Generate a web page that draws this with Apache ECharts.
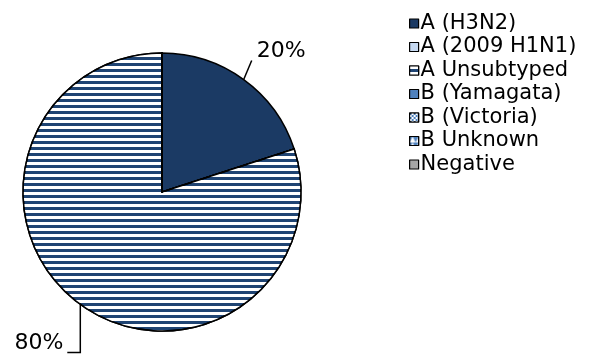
<!DOCTYPE html>
<html>
<head>
<meta charset="utf-8">
<script src="https://cdn.jsdelivr.net/npm/echarts@6/dist/echarts.min.js"></script>
<style>
html,body{margin:0;padding:0;background:#fff;}
#c{width:592px;height:358px;}
</style>
</head>
<body>
<div id="c"></div>
<script>
const categories = ['A (H3N2)', 'A (2009 H1N1)', 'A Unsubtyped', 'B (Yamagata)', 'B (Victoria)', 'B Unknown', 'Negative'];
const values = [20, 0, 80, 0, 0, 0, 0];

const fills = ['#1b3a64', '#c6d9f1', '#1f4473', '#4f81bd', '#4f81bd', '#4f81bd', '#a6a6a6'];
const decals = [
  'none',
  'none',
  { symbol: 'rect', symbolSize: 1, dashArrayX: [1, 0], dashArrayY: [3, 3], color: '#ffffff', rotation: 0 },
  'none',
  { symbol: 'rect', symbolSize: 1, dashArrayX: [[2, 2], [0, 2, 2, 0]], dashArrayY: [2, 0], color: '#ffffff', rotation: 0 },
  { symbol: 'triangle', symbolSize: 1, dashArrayX: [6, 0], dashArrayY: [6, 0], color: '#ffffff', rotation: 0 },
  'none'
];

const data = categories.map((name, i) => {
  const item = {
    name: name,
    value: values[i],
    itemStyle: { color: fills[i] }
  };
  if (decals[i] !== 'none') item.itemStyle.decal = decals[i];
  if (values[i] === 0) {
    item.label = { show: false };
    item.labelLine = { show: false };
  }
  return item;
});

const chart = echarts.init(document.getElementById('c'), null, { renderer: 'canvas' });
chart.setOption({
  animation: false,
  backgroundColor: '#ffffff',
  textStyle: { fontFamily: 'DejaVu Sans' },
  legend: {
    orient: 'vertical',
    left: 404,
    top: 8,
    itemWidth: 9,
    itemHeight: 9,
    itemGap: 2.5,
    icon: 'rect',
    selectedMode: false,
    itemStyle: { borderColor: '#000', borderWidth: 1.2 },
    textStyle: { fontFamily: 'DejaVu Sans', fontSize: 21, color: '#000', lineHeight: 21, padding: [0, 0, 0, -3] },
    data: categories
  },
  series: [{
    type: 'pie',
    center: [162, 192],
    radius: 139,
    startAngle: 90,
    clockwise: true,
    silent: true,
    avoidLabelOverlap: false,
    itemStyle: { borderColor: '#000', borderWidth: 1.5 },
    label: {
      show: true,
      formatter: '{d}%',
      fontFamily: 'DejaVu Sans',
      fontSize: 22,
      color: '#000'
    },
    labelLine: {
      show: true,
      length: 20,
      length2: 0,
      lineStyle: { color: '#000', width: 1.5 }
    },
    labelLayout: function (params) {
      const pts = params.labelLinePoints;
      if (!pts) return {};
      const p0 = pts[0];
      if (params.dataIndex === 0) {
        const p1 = [p0[0] + 8, p0[1] - 19];
        return {
          x: p1[0] + 5,
          y: p1[1] - 9,
          align: 'left',
          verticalAlign: 'middle',
          labelLinePoints: [p0, p1, p1]
        };
      }
      if (params.dataIndex === 2) {
        const p1 = [p0[0], p0[1] + 48];
        const p2 = [p0[0] - 13, p0[1] + 48];
        return {
          x: p2[0] - 4,
          y: p2[1] - 9,
          align: 'right',
          verticalAlign: 'middle',
          labelLinePoints: [p0, p1, p2]
        };
      }
      return {};
    },
    data: data
  }]
});
</script>
</body>
</html>
